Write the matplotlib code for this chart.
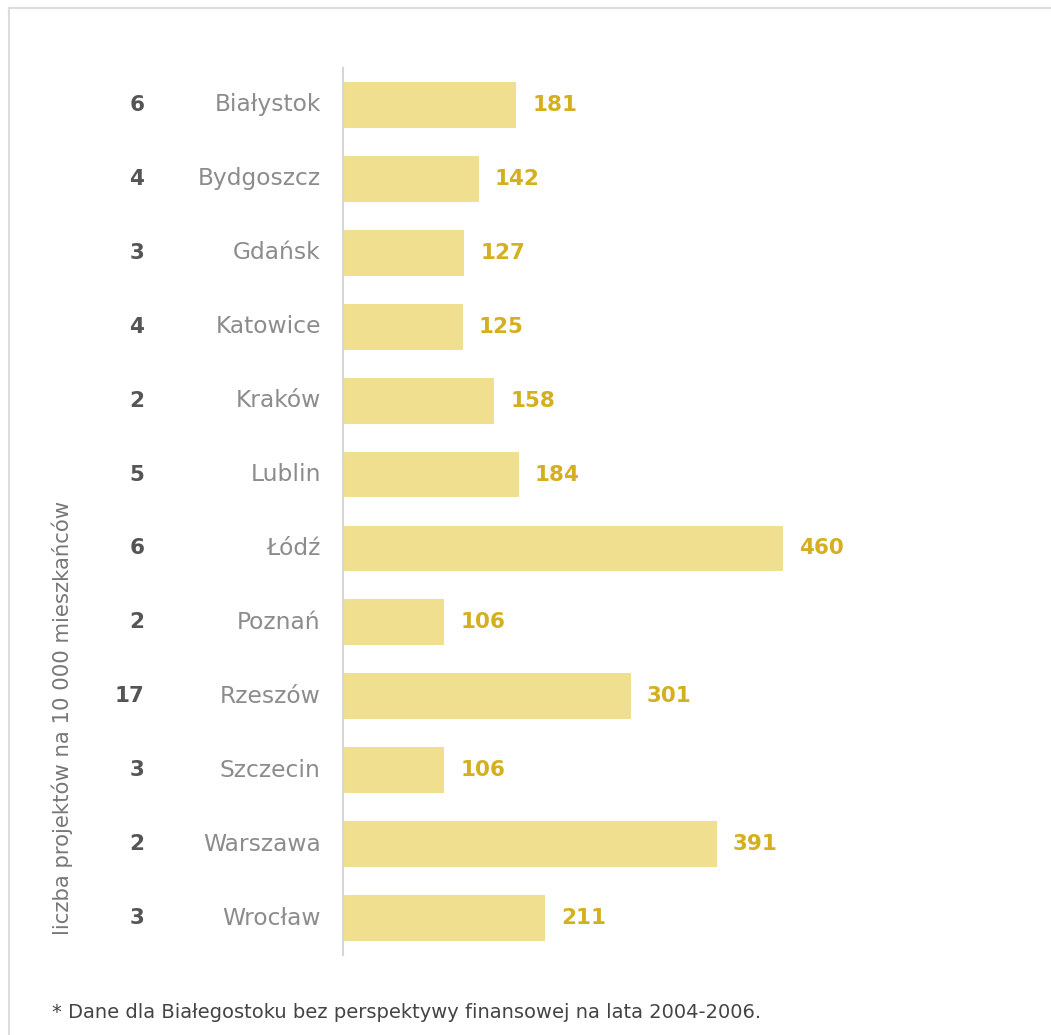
import matplotlib.pyplot as plt
from matplotlib.lines import Line2D

cities = ["Białystok", "Bydgoszcz", "Gdańsk", "Katowice", "Kraków", "Lublin",
          "Łódź", "Poznań", "Rzeszów", "Szczecin", "Warszawa", "Wrocław"]
values = [181, 142, 127, 125, 158, 184, 460, 106, 301, 106, 391, 211]
projects = [6, 4, 3, 4, 2, 5, 6, 2, 17, 3, 2, 3]
ylabel = "liczba projektów na 10 000 mieszkańców"
footnote = "* Dane dla Białegostoku bez perspektywy finansowej na lata 2004-2006."

plt.rcParams["font.family"] = ["DejaVu Sans"]

fig = plt.figure(figsize=(10.51, 10.35), dpi=100)
ax = fig.add_axes([343 / 1051, 1 - 955 / 1035, 657 / 1051, 887 / 1035])

pos = list(range(len(cities)))
ax.barh(pos, values, height=0.62, color="#f0df8f")
ax.set_ylim(len(cities) - 0.5, -0.5)
ax.set_xlim(0, 687)

# value labels right of bars
for p, v in zip(pos, values):
    ax.annotate(str(v), (v, p), xytext=(11.5, 0), textcoords="offset points",
                ha="left", va="center", fontsize=15.5, fontweight="bold",
                color="#d4b021")

# city names and project counts to the left of the axis
for p, c, n in zip(pos, cities, projects):
    ax.annotate(c, (0, p), xytext=(-16, 0), textcoords="offset points",
                ha="right", va="center", fontsize=16.8, color="#8c8c8c")
    ax.annotate(str(n), (0, p), xytext=(-143, 0), textcoords="offset points",
                ha="right", va="center", fontsize=15.5, fontweight="bold",
                color="#555555")

ax.set_xticks([])
ax.set_yticks([])
for s in ["top", "right", "bottom"]:
    ax.spines[s].set_visible(False)
ax.spines["left"].set_color("#d6d6d6")
ax.spines["left"].set_linewidth(1.5)

fig.text(62 / 1051, 1 - 718 / 1035, ylabel, rotation=90, ha="center",
         va="center", fontsize=15.3, color="#777777")
fig.text(52 / 1051, 1 - 1013 / 1035, footnote, ha="left", va="center",
         fontsize=14, color="#444444")

# light frame (top and left edges)
fig.add_artist(Line2D([9 / 1051, 9 / 1051], [0, 1 - 8 / 1035],
                      color="#dddddd", lw=1.5))
fig.add_artist(Line2D([9 / 1051, 1], [1 - 8 / 1035, 1 - 8 / 1035],
                      color="#dddddd", lw=1.5))

plt.savefig("out.png", dpi=100)
